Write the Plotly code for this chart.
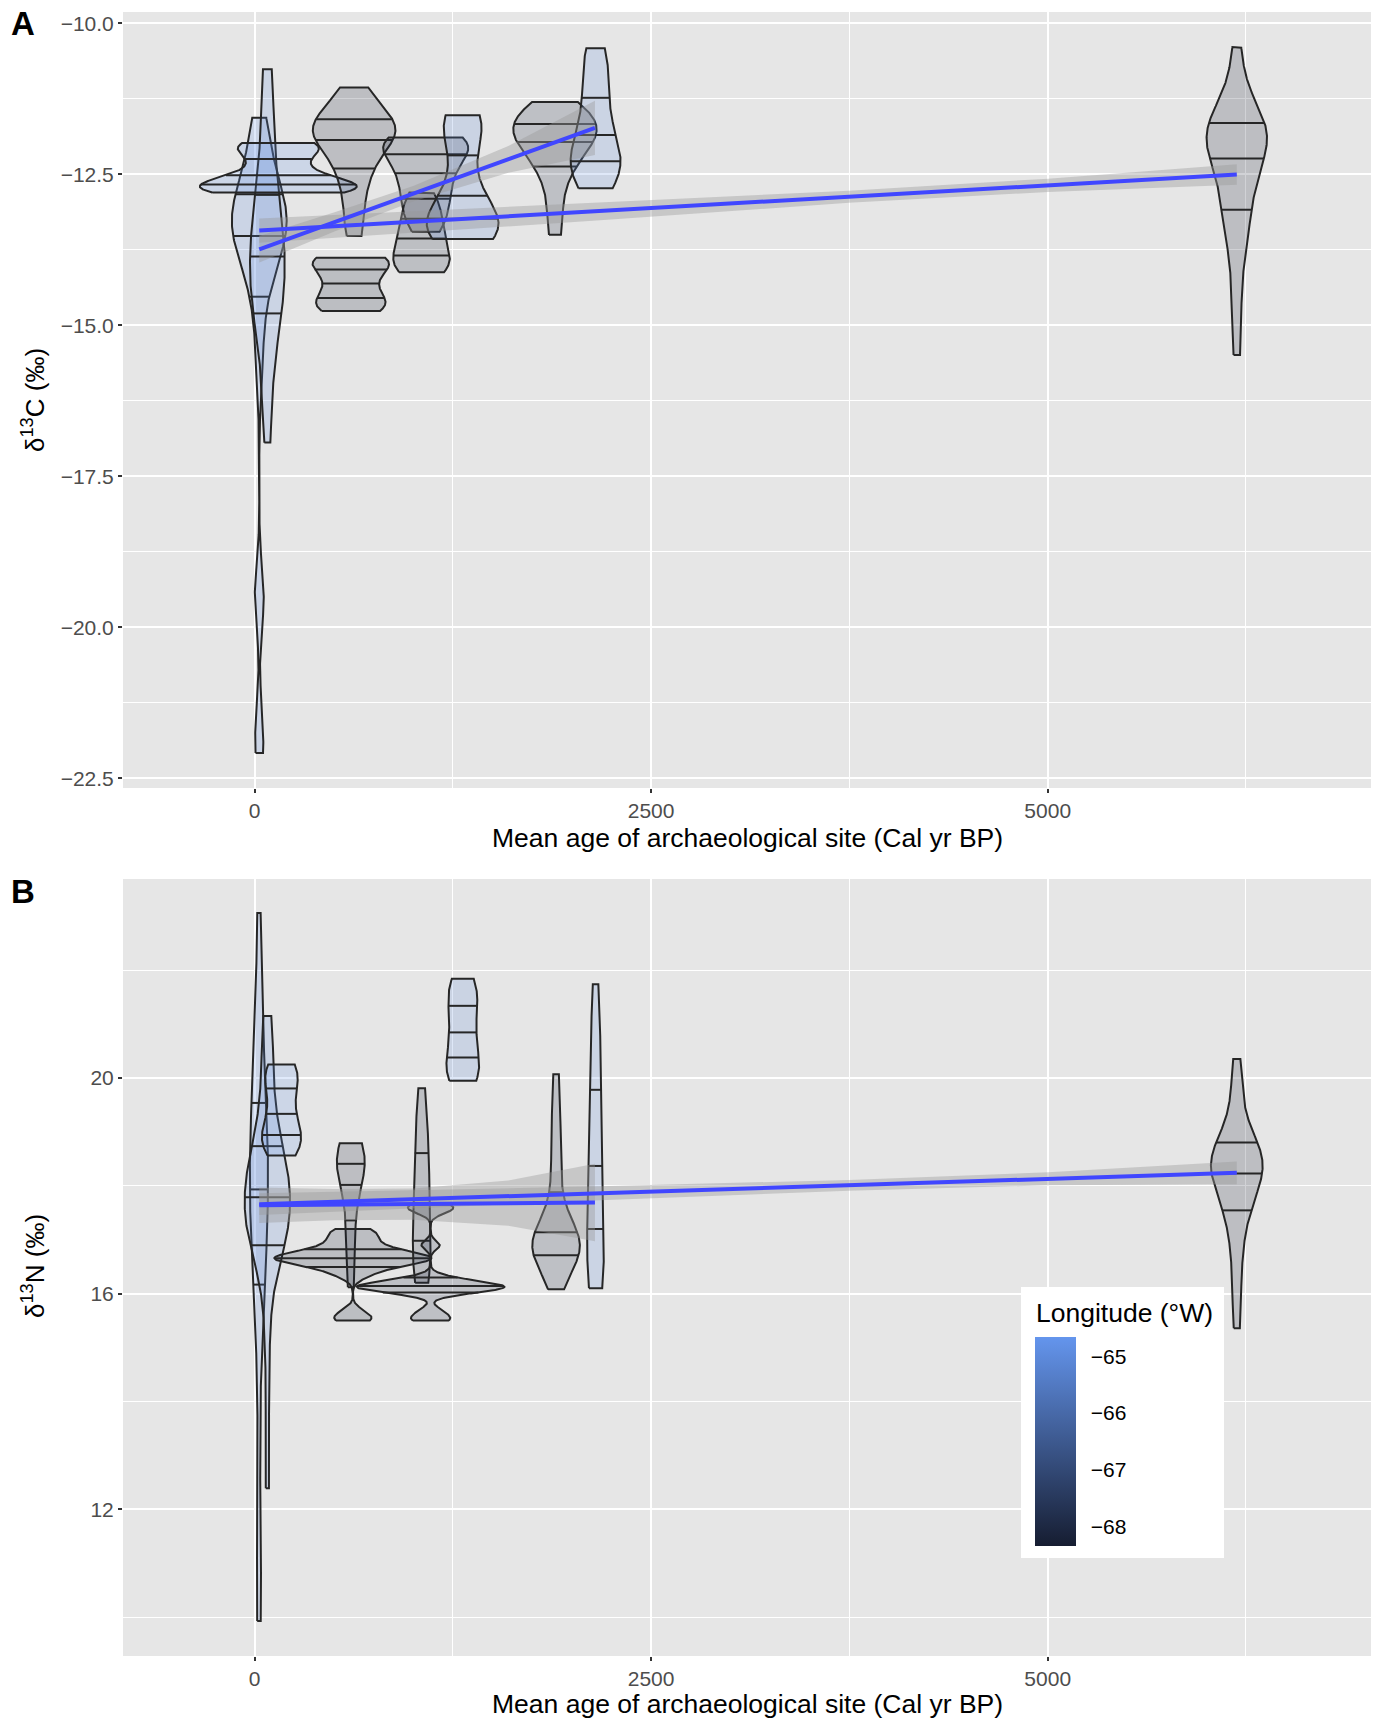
import numpy as np
import plotly.graph_objects as go

# ---------------- DATA ----------------
# Panel A: delta13C (permil) values per site; violins sit at the site's mean age (cal yr BP)
A_AGE = [30, 81, 150, 607, 628, 1053, 1079, 1312, 1894, 2150, 6192]
A_LON = [-64.9, -65.0, -64.66, -68.35, -68.3, -68.2, -68.1, -65.1, -68.0, -65.0, -68.3]
a_s1 = [-22.08, -21.6, -19.6, -19.4, -15.8, -15.0, -14.5, -14.2, -14.0, -13.85, -13.7, -13.6,
        -13.5, -13.42, -13.35, -13.28, -13.2, -13.12, -13.05, -12.95, -12.85, -12.7, -12.55,
        -12.35, -12.1, -11.8, -11.56]
a_s2 = [-16.94, -16.2, -15.6, -15.2, -14.95, -14.75, -14.6, -14.45, -14.3, -14.15, -14.0, -13.85,
        -13.7, -13.56, -13.4, -13.2, -13.0, -12.8, -12.5, -12.1, -11.6, -11.1, -10.76]
a_s3 = [-12.80, -12.77, -12.75, -12.74, -12.73, -12.72, -12.71, -12.69, -12.66, -12.62, -12.55,
        -12.45, -12.35, -12.25, -12.12, -12.05, -12.02, -12.0, -11.98]
a_s4 = [-14.76, -14.74, -14.7, -14.64, -14.56, -14.46, -14.34, -14.22, -14.1, -14.0, -13.94,
        -13.91, -13.89, -13.88]
a_s5 = [-13.52, -13.25, -12.95, -12.7, -12.5, -12.35, -12.22, -12.1, -12.0, -11.93, -11.87, -11.82,
        -11.77, -11.72, -11.67, -11.61, -11.54, -11.45, -11.34, -11.22, -11.06]
a_s6 = [-14.12, -14.09, -14.03, -13.95, -13.85, -13.74, -13.62, -13.5, -13.38, -13.25, -13.1,
        -12.95, -12.8]
a_s7 = [-13.45, -13.33, -13.2, -13.07, -12.95, -12.83, -12.72, -12.61, -12.5, -12.4, -12.3, -12.21,
        -12.13, -12.06, -12.0, -11.96, -11.93, -11.91, -11.9, -11.89]
a_s8 = [-13.57, -13.55, -13.52, -13.49, -13.45, -13.41, -13.37, -13.32, -13.26, -13.19, -13.1,
        -13.0, -12.87, -12.7, -12.48, -12.2, -11.95, -11.76, -11.65, -11.58, -11.54, -11.52]
a_s9 = [-13.5, -13.1, -12.75, -12.5, -12.35, -12.22, -12.12, -12.04, -11.96, -11.89, -11.83, -11.77,
        -11.72, -11.66, -11.6, -11.52, -11.44, -11.37, -11.3]
a_s10 = [-12.73, -12.64, -12.54, -12.45, -12.37, -12.29, -12.21, -12.11, -11.98, -11.83, -11.65,
         -11.45, -11.22, -10.98, -10.75, -10.56, -10.41]
a_s11 = [-15.49, -14.75, -14.15, -13.7, -13.4, -13.25, -13.05, -12.85, -12.65, -12.5, -12.38,
         -12.22, -12.1, -12.0, -11.92, -11.85, -11.82, -11.79, -11.76, -11.7, -11.62, -11.5, -11.3,
         -10.95, -10.39]
A_SAMPLES = [a_s1, a_s2, a_s3, a_s4, a_s5, a_s6, a_s7, a_s8, a_s9, a_s10, a_s11]

# Panel B: delta15N (permil) values per site
B_AGE = [28, 81, 170, 607, 620, 1054, 1110, 1313, 1901, 2150, 6192]
B_LON = [-64.9, -65.0, -64.66, -68.3, -68.35, -68.2, -68.0, -65.1, -68.0, -65.0, -68.3]
b_s1 = [9.93, 10.5, 11.2, 13.0, 14.5, 15.5, 16.0, 16.35, 16.6, 16.84, 17.05, 17.25, 17.45, 17.65,
        17.85, 18.06, 18.25, 18.45, 18.65, 18.85, 19.05, 19.25, 19.47, 19.7, 19.95, 20.3, 20.8,
        21.5, 22.3, 23.06]
b_s2 = [12.39, 13.6, 14.8, 15.6, 16.1, 16.4, 16.6, 16.73, 16.85, 16.96, 17.05, 17.13, 17.21,
        17.29, 17.37, 17.45, 17.53, 17.61, 17.69, 17.77, 17.85, 17.93, 18.01, 18.09, 18.17, 18.25,
        18.33, 18.42, 18.52, 18.63, 18.76, 18.92, 19.1, 19.3, 19.55, 19.85, 20.2, 20.55, 20.9,
        21.15]
b_s3 = [18.56, 18.62, 18.7, 18.78, 18.85, 18.92, 19.0, 19.1, 19.22, 19.38, 19.55, 19.7, 19.85,
        19.98, 20.08, 20.16, 20.22, 20.25]
b_s4 = [16.12, 16.6, 17.1, 17.55, 17.9, 18.1, 18.24, 18.36, 18.47, 18.57, 18.66, 18.74, 18.79]
b_s5 = [15.5, 15.54, 15.66, 16.32, 16.42, 16.48, 16.53, 16.57, 16.6, 16.62, 16.64, 16.65, 16.66,
        16.68, 16.7, 16.72, 16.75, 16.79, 16.84, 16.9, 16.98, 17.06, 17.13, 17.2]
b_s6 = [16.2, 16.3, 16.45, 16.62, 16.8, 17.0, 17.25, 17.5, 17.75, 18.0, 18.25, 18.5, 18.75, 19.05,
        19.4, 19.81]
b_s7 = [15.5, 15.55, 15.68, 16.0, 16.05, 16.08, 16.1, 16.12, 16.13, 16.14, 16.16, 16.19, 16.23,
        16.3, 16.9, 17.52, 17.6, 17.65]
b_s8 = [19.95, 19.97, 20.02, 20.09, 20.18, 20.3, 20.44, 20.58, 20.73, 20.88, 21.03, 21.18, 21.33,
        21.47, 21.6, 21.7, 21.78, 21.84]
b_s9 = [16.08, 16.3, 16.46, 16.58, 16.67, 16.74, 16.8, 16.85, 16.9, 16.95, 17.0, 17.06, 17.13,
        17.22, 17.35, 17.55, 17.85, 18.25, 18.65, 19.05, 19.5, 20.07]
b_s10 = [16.1, 16.18, 16.28, 16.4, 16.55, 16.72, 16.92, 17.15, 17.38, 17.65, 17.95, 18.25, 18.53,
         18.85, 19.15, 19.48, 19.78, 20.1, 20.45, 20.85, 21.3, 21.74]
b_s11 = [15.36, 15.85, 16.3, 16.7, 17.0, 17.25, 17.45, 17.6, 17.72, 17.83, 17.93, 18.02, 18.1,
         18.17, 18.24, 18.3, 18.36, 18.42, 18.48, 18.54, 18.6, 18.67, 18.75, 18.83, 18.93, 19.08,
         19.3, 19.6, 19.95, 20.35]
B_SAMPLES = [b_s1, b_s2, b_s3, b_s4, b_s5, b_s6, b_s7, b_s8, b_s9, b_s10, b_s11]

# Linear fits (geom_smooth, method = lm): ends and confidence band
A_FIT_X = [[30, 6192], [30, 2146]]
A_FIT_Y = [[-13.43, -12.50], [-13.74, -11.73]]
A_BAND_X = [[30, 2178, 3747, 5003, 6192], [30, 500, 1000, 1600, 2146]]
A_BAND_LO = [[-13.63, -13.26, -12.97, -12.79, -12.67], [-13.96, -13.45, -12.95, -12.47, -12.18]]
A_BAND_HI = [[-13.23, -12.96, -12.77, -12.57, -12.33], [-13.52, -13.13, -12.69, -12.03, -11.28]]

B_FIT_X = [[30, 6192], [30, 2146]]
B_FIT_Y = [[17.66, 18.24], [17.64, 17.69]]
B_BAND_X = [[30, 2178, 3747, 5003, 6192], [30, 500, 1000, 1600, 2146]]
B_BAND_LO = [[17.46, 17.73, 17.91, 18.01, 18.03], [17.31, 17.36, 17.37, 17.26, 16.97]]
B_BAND_HI = [[17.86, 17.99, 18.11, 18.25, 18.45], [17.97, 17.94, 17.95, 18.10, 18.41]]

X_TICKS = [0, 2500, 5000]
A_Y_TICKS = [-10.0, -12.5, -15.0, -17.5, -20.0, -22.5]
B_Y_TICKS = [12, 16, 20]
LEGEND_TICKS = [-65, -66, -67, -68]
LON_MIN, LON_MAX = -68.35, -64.66

# ---------------- STYLE ----------------
FONT = "Liberation Sans, Arial, Helvetica, sans-serif"
BG = "#E6E6E6"
OUTLINE = "#262626"
VIOLIN_W = 990.0           # full width of the widest violin (x-data units)
LOW_RGB = np.array([22, 29, 49], float)
HIGH_RGB = np.array([100, 149, 237], float)
SMOOTH_BLUE = "#4046FF"


def minus(s):
    return s.replace("-", "\u2212")


def lon_rgb(lon):
    t = (lon - LON_MIN) / (LON_MAX - LON_MIN)
    t = min(max(t, 0.0), 1.0)
    c = LOW_RGB + (HIGH_RGB - LOW_RGB) * t
    return tuple(int(round(v)) for v in c)


def kde(samples, grid):
    x = np.asarray(samples, float)
    n = len(x)
    sd = x.std(ddof=1)
    q75, q25 = np.percentile(x, [75, 25])
    lo = min(sd, (q75 - q25) / 1.34)
    if lo <= 0:
        lo = sd
    bw = 0.9 * lo * n ** (-0.2)
    z = (grid[:, None] - x[None, :]) / bw
    return np.exp(-0.5 * z * z).sum(axis=1) / (n * bw * np.sqrt(2 * np.pi))


fig = go.Figure()


def add_panel(ages, lons, samples, fit_x, fit_y, band_x, band_lo, band_hi, xa, ya):
    grids, dens = [], []
    for s in samples:
        g = np.linspace(min(s), max(s), 512)
        grids.append(g)
        dens.append(kde(s, g) * len(s))          # scale = "count"
    dmax = max(d.max() for d in dens)
    for age, lon, g, d in zip(ages, lons, grids, dens):
        half = d / dmax * VIOLIN_W / 2.0
        xs = np.concatenate([age - half, (age + half)[::-1], [age - half[0]]])
        ys = np.concatenate([g, g[::-1], [g[0]]])
        r, gg, b = lon_rgb(lon)
        fig.add_trace(go.Scatter(
            x=xs, y=ys, mode="lines", fill="toself",
            fillcolor=f"rgba({r},{gg},{b},0.2)",
            line=dict(color=OUTLINE, width=2),
            hoverinfo="skip", showlegend=False, xaxis=xa, yaxis=ya))
        cdf = np.cumsum(d) / d.sum()
        qx, qy = [], []
        for q in (0.25, 0.5, 0.75):
            yq = float(np.interp(q, cdf, g))
            hq = float(np.interp(yq, g, half))
            qx += [age - hq, age + hq, None]
            qy += [yq, yq, None]
        fig.add_trace(go.Scatter(
            x=qx, y=qy, mode="lines", line=dict(color=OUTLINE, width=2),
            hoverinfo="skip", showlegend=False, xaxis=xa, yaxis=ya))
    for bx, lo, hi in zip(band_x, band_lo, band_hi):
        fig.add_trace(go.Scatter(
            x=list(bx) + list(bx)[::-1], y=list(hi) + list(lo)[::-1],
            mode="lines", fill="toself", fillcolor="rgba(153,153,153,0.4)",
            line=dict(width=0), hoverinfo="skip", showlegend=False, xaxis=xa, yaxis=ya))
    for fx, fy in zip(fit_x, fit_y):
        fig.add_trace(go.Scatter(
            x=fx, y=fy, mode="lines", line=dict(color=SMOOTH_BLUE, width=4),
            hoverinfo="skip", showlegend=False, xaxis=xa, yaxis=ya))


add_panel(A_AGE, A_LON, A_SAMPLES, A_FIT_X, A_FIT_Y, A_BAND_X, A_BAND_LO, A_BAND_HI, "x", "y")
add_panel(B_AGE, B_LON, B_SAMPLES, B_FIT_X, B_FIT_Y, B_BAND_X, B_BAND_LO, B_BAND_HI, "x2", "y2")

# colour bar for longitude
lo_c = "rgb(%d,%d,%d)" % lon_rgb(LON_MIN)
hi_c = "rgb(%d,%d,%d)" % lon_rgb(LON_MAX)
fig.add_trace(go.Scatter(
    x=[None], y=[None], mode="markers", xaxis="x2", yaxis="y2", showlegend=False,
    marker=dict(color=[LON_MIN], cmin=LON_MIN, cmax=LON_MAX,
                colorscale=[[0, lo_c], [1, hi_c]], showscale=True,
                colorbar=dict(thickness=41, thicknessmode="pixels", len=209, lenmode="pixels",
                              x=(1034.5 - 123) / 1248, xanchor="left",
                              y=(1656 - 1441.5) / 1644, yanchor="middle",
                              xpad=0, ypad=0, outlinewidth=0,
                              tickvals=LEGEND_TICKS,
                              ticktext=[minus(str(v)) for v in LEGEND_TICKS],
                              ticks="outside", ticklen=11, tickwidth=1,
                              tickcolor="rgba(0,0,0,0)",
                              tickfont=dict(family=FONT, size=21, color="black")))))

L, R, T, B = 123, 9, 12, 64
PH = 1720 - T - B


def py(y_px):
    return (1720 - B - y_px) / PH


def px(x_px):
    return (x_px - L) / (1380 - L - R)


axis_common = dict(showline=False, zeroline=False, showgrid=True, gridcolor="white", gridwidth=2,
                   ticks="outside", ticklen=4, tickwidth=2, tickcolor="#333333",
                   tickfont=dict(family=FONT, size=21, color="#4D4D4D"), ticklabelstandoff=0)

fig.update_layout(
    width=1380, height=1720, margin=dict(l=L, r=R, t=T, b=B),
    paper_bgcolor="white", plot_bgcolor=BG, showlegend=False,
    font=dict(family=FONT),
    xaxis=dict(domain=[0, 1], anchor="y", range=[-829, 7038], tickvals=X_TICKS,
               ticktext=[str(v) for v in X_TICKS],
               minor=dict(tick0=0, dtick=1250, showgrid=True, gridcolor="white", gridwidth=1),
               **axis_common),
    yaxis=dict(domain=[py(788), 1], anchor="x", range=[-22.66, -9.81], tickvals=A_Y_TICKS,
               ticktext=[minus("%.1f" % v) for v in A_Y_TICKS],
               minor=dict(tick0=-10, dtick=1.25, showgrid=True, gridcolor="white", gridwidth=1),
               **axis_common),
    xaxis2=dict(domain=[0, 1], anchor="y2", range=[-829, 7038], tickvals=X_TICKS,
                ticktext=[str(v) for v in X_TICKS],
                minor=dict(tick0=0, dtick=1250, showgrid=True, gridcolor="white", gridwidth=1),
                **axis_common),
    yaxis2=dict(domain=[0, py(879)], anchor="x2", range=[9.28, 23.69], tickvals=B_Y_TICKS,
                ticktext=[str(v) for v in B_Y_TICKS],
                minor=dict(tick0=0, dtick=2, showgrid=True, gridcolor="white", gridwidth=1),
                **axis_common),
)

fig.add_shape(type="rect", xref="paper", yref="paper", x0=px(1021), x1=px(1224),
              y0=py(1558), y1=py(1287), fillcolor="white", line=dict(width=0), layer="above")

ann = []
xt = "Mean age of archaeological site (Cal yr BP)"
ann.append(dict(text=xt, x=0.5, y=py(838), xref="paper", yref="paper", showarrow=False,
                font=dict(size=26.5, color="black", family=FONT), xanchor="center",
                yanchor="middle"))
ann.append(dict(text=xt, x=0.5, y=py(1704), xref="paper", yref="paper", showarrow=False,
                font=dict(size=26.5, color="black", family=FONT), xanchor="center",
                yanchor="middle"))
ann.append(dict(text="\u03b4<sup>13</sup>C (\u2030)", x=px(33), y=py(400), xref="paper",
                yref="paper", showarrow=False, textangle=-90,
                font=dict(size=26, color="black", family=FONT), xanchor="center", yanchor="middle"))
ann.append(dict(text="\u03b4<sup>13</sup>N (\u2030)", x=px(33), y=py(1266), xref="paper",
                yref="paper", showarrow=False, textangle=-90,
                font=dict(size=26, color="black", family=FONT), xanchor="center", yanchor="middle"))
ann.append(dict(text="<b>A</b>", x=px(23), y=py(24), xref="paper", yref="paper", showarrow=False,
                font=dict(size=33, color="black", family=FONT), xanchor="center", yanchor="middle"))
ann.append(dict(text="<b>B</b>", x=px(23), y=py(891), xref="paper", yref="paper", showarrow=False,
                font=dict(size=33, color="black", family=FONT), xanchor="center", yanchor="middle"))
ann.append(dict(text="Longitude (\u00b0W)", x=px(1034), y=py(1313), xref="paper", yref="paper",
                showarrow=False, font=dict(size=26.5, color="black", family=FONT),
                xanchor="left", yanchor="middle"))
fig.update_layout(annotations=ann)

fig.write_html("out.html")
